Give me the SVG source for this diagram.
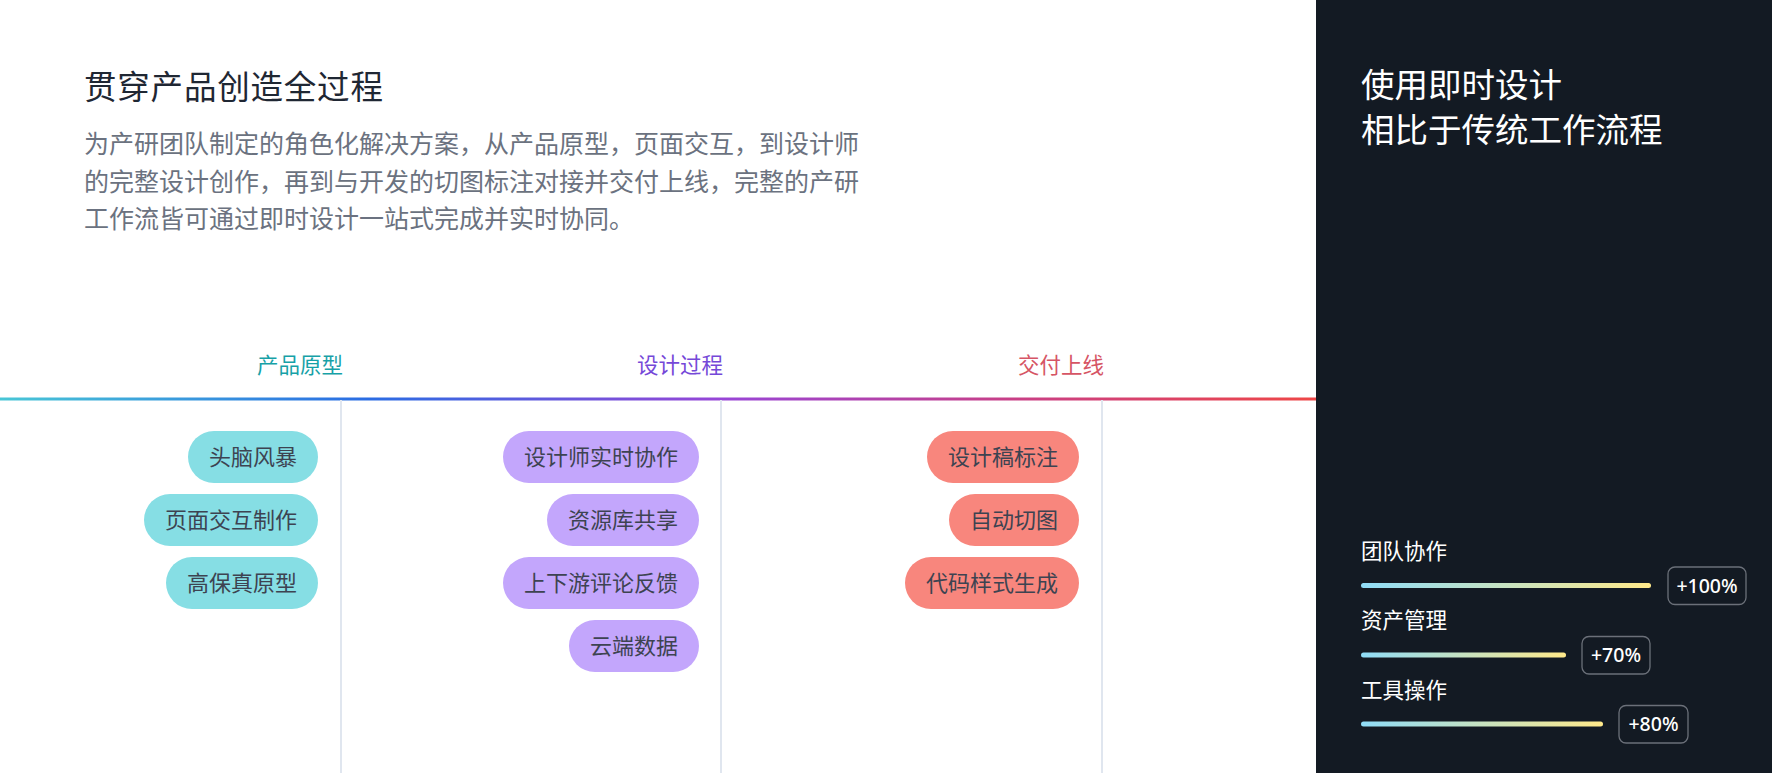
<svg xmlns="http://www.w3.org/2000/svg" width="1772" height="773" viewBox="0 0 1772 773">
<defs>
<linearGradient id="topline" x1="0" y1="0" x2="1316" y2="0" gradientUnits="userSpaceOnUse">
<stop offset="0" stop-color="#48c6d6"/>
<stop offset="0.28" stop-color="#2a6ce3"/>
<stop offset="0.55" stop-color="#9845d6"/>
<stop offset="0.77" stop-color="#c83f86"/>
<stop offset="1" stop-color="#ee4646"/>
</linearGradient>
<linearGradient id="bar" x1="0" y1="0" x2="1" y2="0">
<stop offset="0" stop-color="#8fdcf7"/>
<stop offset="1" stop-color="#ffe98a"/>
</linearGradient>
<style>
.cjk{font-family:"Noto Sans CJK SC","Noto Sans",sans-serif;}
.title{font-size:32.5px;fill:#1f2733;letter-spacing:0.8px;}
.para{font-size:25px;fill:#6b7280;}
.head{font-size:21.5px;text-anchor:end;}
.pill text{font-size:22px;fill:#3d4351;text-anchor:middle;}
.p1 rect{fill:#86dee4;}
.p2 rect{fill:#c3a6fc;}
.p3 rect{fill:#f8867d;}
.div{stroke:#e0e6ef;stroke-width:2;}
.rtitle{font-size:33.5px;fill:#ffffff;}
.rlabel{font-size:21.5px;fill:#ffffff;}
.badge rect{fill:none;stroke:#6b7079;stroke-width:1.3;}
.badge text{font-family:"Noto Sans",sans-serif;font-size:19.5px;font-weight:500;fill:#ffffff;text-anchor:middle;}
.barl{fill:url(#bar);}
</style>
</defs>
<rect x="0" y="0" width="1772" height="773" fill="#ffffff"/>

<g id="intro" class="cjk">
<text class="title" x="84" y="99">贯穿产品创造全过程</text>
<text class="para" x="84" y="153">为产研团队制定的角色化解决方案，从产品原型，页面交互，到设计师</text>
<text class="para" x="84" y="191">的完整设计创作，再到与开发的切图标注对接并交付上线，完整的产研</text>
<text class="para" x="84" y="228">工作流皆可通过即时设计一站式完成并实时协同。</text>
</g>

<g id="connectors">
<rect x="0" y="397.5" width="1316" height="3" fill="url(#topline)"/>
<line class="div" x1="341" y1="400" x2="341" y2="773"/>
<line class="div" x1="721" y1="400" x2="721" y2="773"/>
<line class="div" x1="1102" y1="400" x2="1102" y2="773"/>
</g>

<g id="headers" class="cjk">
<text class="head" x="343" y="373" fill="#17a1a7">产品原型</text>
<text class="head" x="723" y="373" fill="#7548d8">设计过程</text>
<text class="head" x="1104" y="373" fill="#d65565">交付上线</text>
</g>

<g id="col1" class="cjk">
<g id="n-brainstorm" class="pill p1"><rect x="188" y="431" width="130" height="52" rx="26"/><text x="253" y="465">头脑风暴</text></g>
<g id="n-interaction" class="pill p1"><rect x="144" y="494" width="174" height="52" rx="26"/><text x="231" y="528">页面交互制作</text></g>
<g id="n-hifi" class="pill p1"><rect x="166" y="557" width="152" height="52" rx="26"/><text x="242" y="591">高保真原型</text></g>
</g>

<g id="col2" class="cjk">
<g id="n-collab" class="pill p2"><rect x="503" y="431" width="196" height="52" rx="26"/><text x="601" y="465">设计师实时协作</text></g>
<g id="n-library" class="pill p2"><rect x="547" y="494" width="152" height="52" rx="26"/><text x="623" y="528">资源库共享</text></g>
<g id="n-feedback" class="pill p2"><rect x="503" y="557" width="196" height="52" rx="26"/><text x="601" y="591">上下游评论反馈</text></g>
<g id="n-cloud" class="pill p2"><rect x="569" y="620" width="130" height="52" rx="26"/><text x="634" y="654">云端数据</text></g>
</g>

<g id="col3" class="cjk">
<g id="n-annotate" class="pill p3"><rect x="927" y="431" width="152" height="52" rx="26"/><text x="1003" y="465">设计稿标注</text></g>
<g id="n-slice" class="pill p3"><rect x="949" y="494" width="130" height="52" rx="26"/><text x="1014" y="528">自动切图</text></g>
<g id="n-code" class="pill p3"><rect x="905" y="557" width="174" height="52" rx="26"/><text x="992" y="591">代码样式生成</text></g>
</g>

<g id="panel">
<rect x="1316" y="0" width="456" height="773" fill="#131a23"/>
<g class="cjk">
<text class="rtitle" x="1361" y="97">使用即时设计</text>
<text class="rtitle" x="1361" y="142">相比于传统工作流程</text>
</g>
<g id="stat-team">
<text class="cjk rlabel" x="1361" y="559">团队协作</text>
<rect class="barl" x="1361" y="583" width="290" height="5" rx="2.5"/>
<g class="badge"><rect x="1668" y="567" width="78" height="37.5" rx="7"/><text x="1707" y="592.5">+100%</text></g>
</g>
<g id="stat-asset">
<text class="cjk rlabel" x="1361" y="628">资产管理</text>
<rect class="barl" x="1361" y="652.5" width="205" height="5" rx="2.5"/>
<g class="badge"><rect x="1582" y="636.5" width="68" height="37.5" rx="7"/><text x="1616" y="662">+70%</text></g>
</g>
<g id="stat-tool">
<text class="cjk rlabel" x="1361" y="698">工具操作</text>
<rect class="barl" x="1361" y="721.5" width="242" height="5" rx="2.5"/>
<g class="badge"><rect x="1619" y="705.5" width="69" height="37.5" rx="7"/><text x="1653.5" y="731">+80%</text></g>
</g>
</g>
</svg>
